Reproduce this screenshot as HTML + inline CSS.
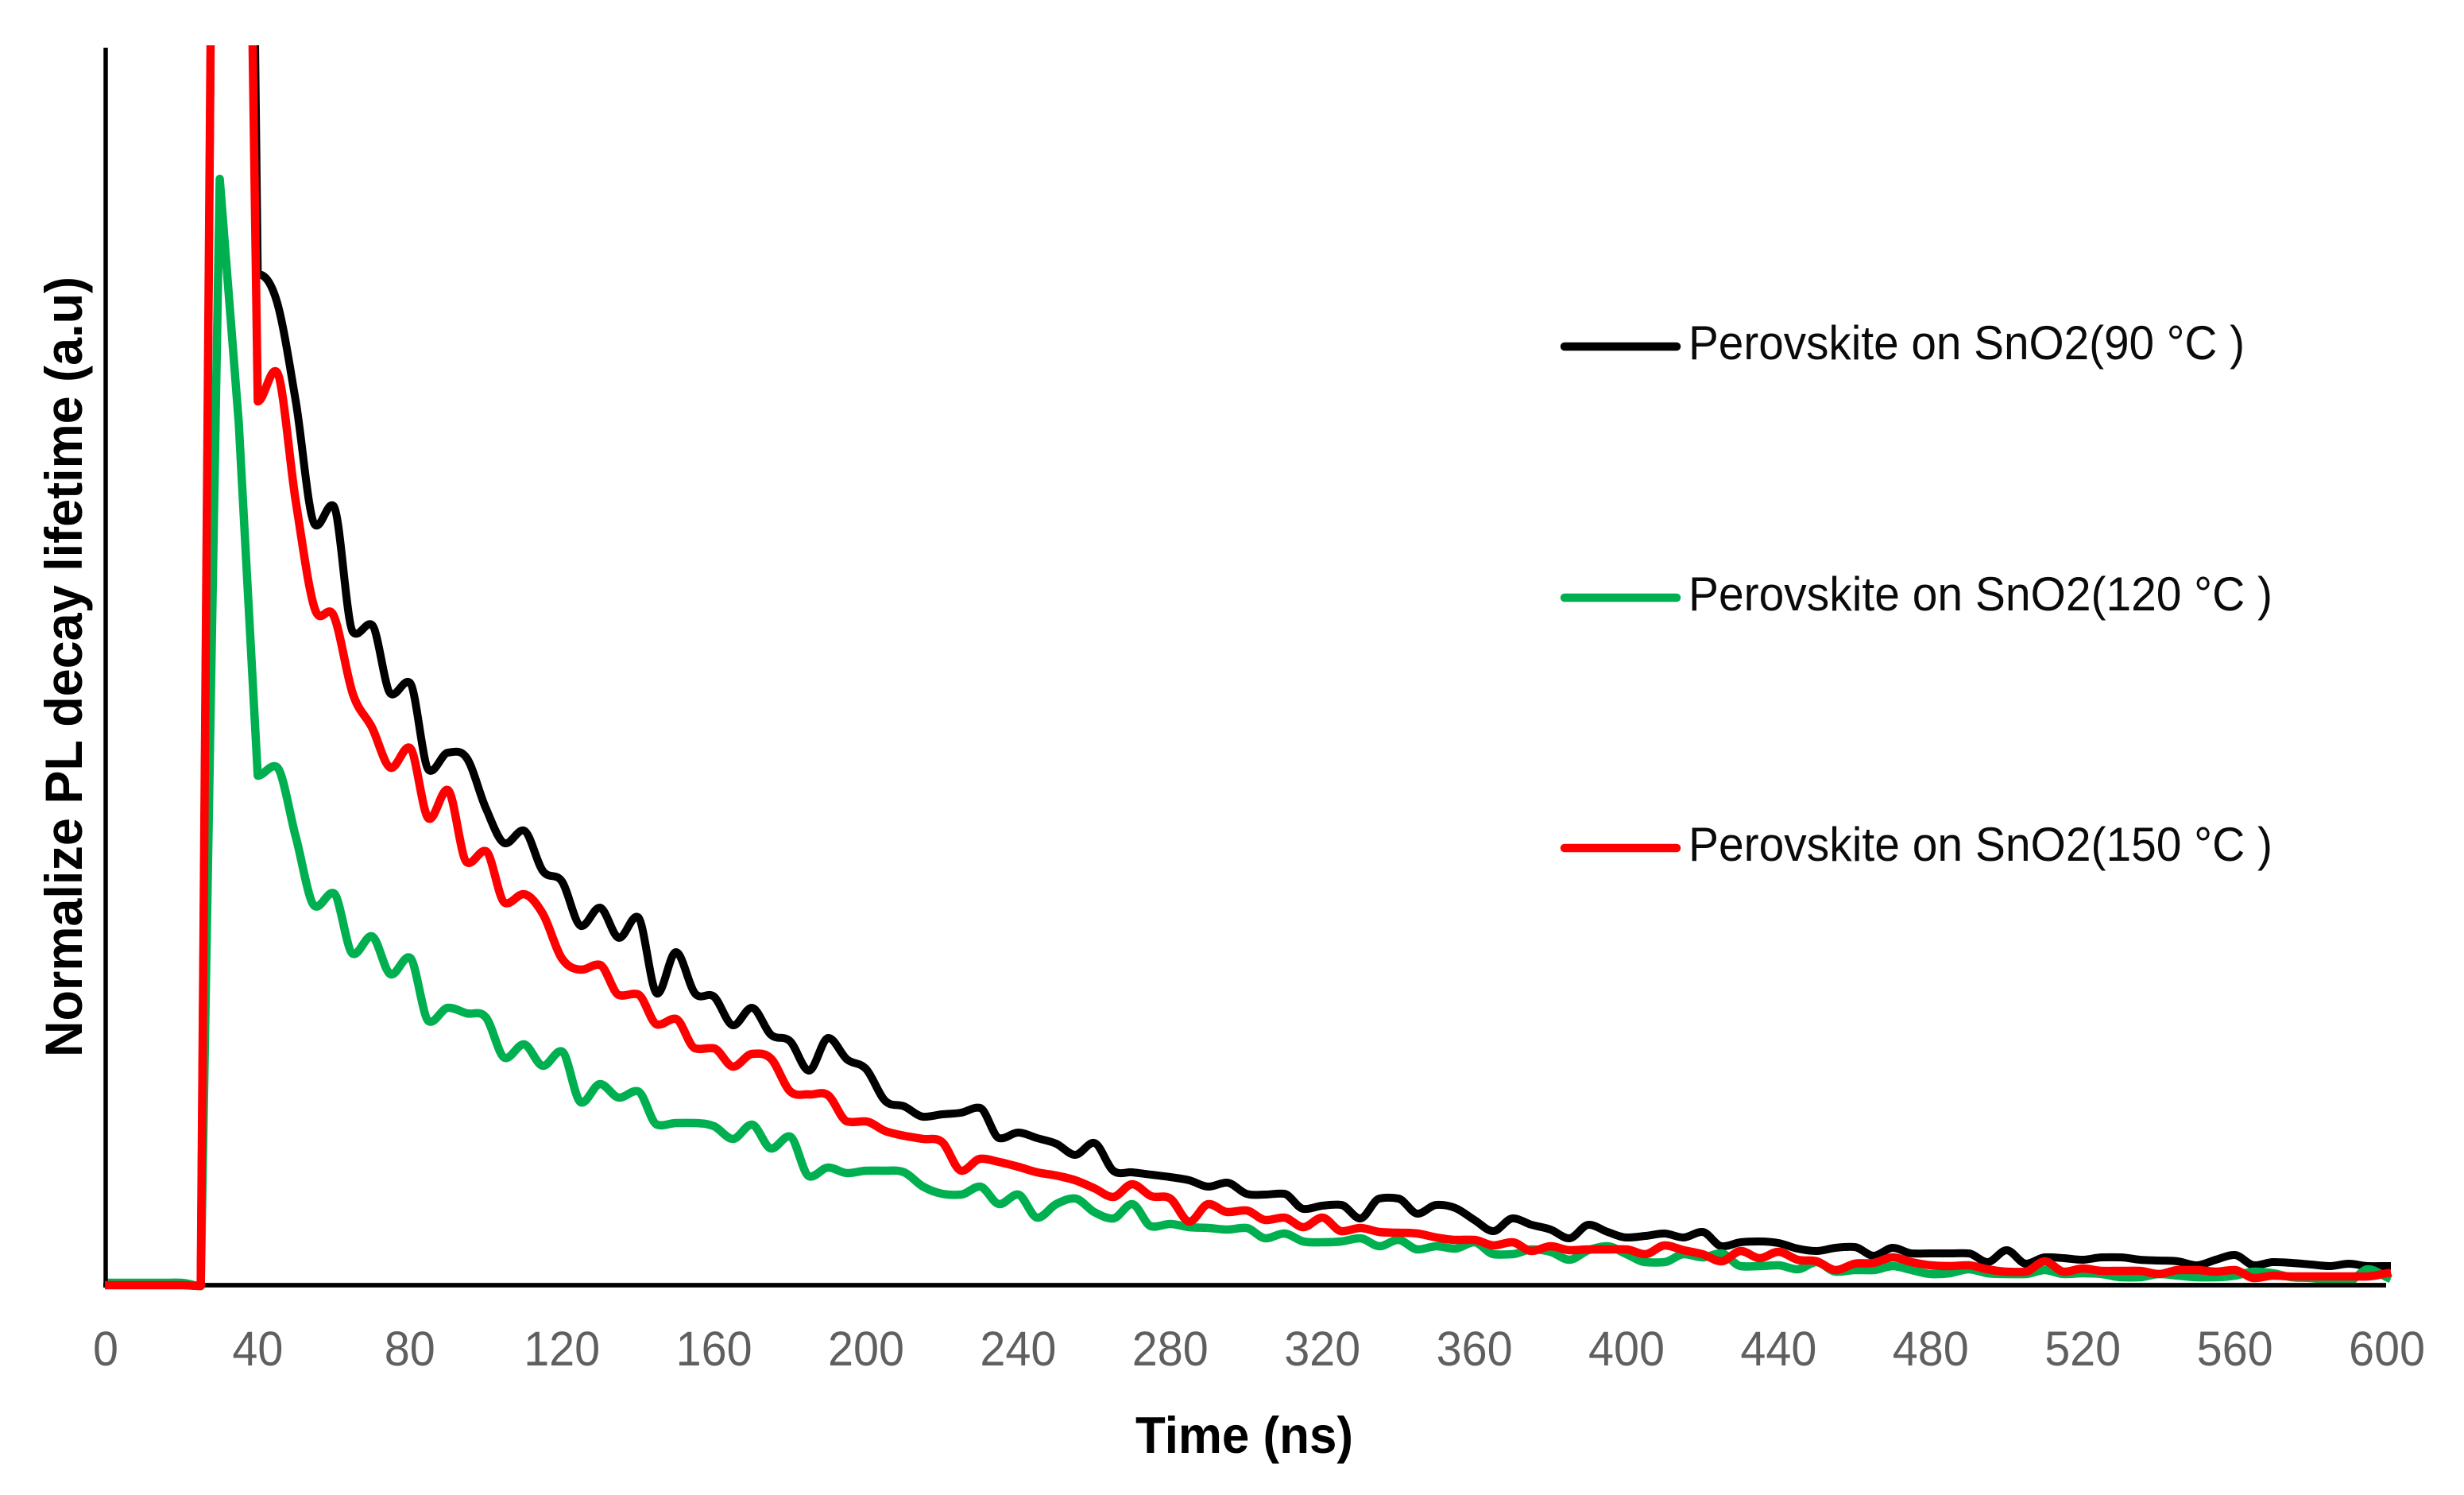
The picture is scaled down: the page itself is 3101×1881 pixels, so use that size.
<!DOCTYPE html>
<html lang="en">
<head>
<meta charset="utf-8">
<title>PL decay lifetime</title>
<style>
html,body{margin:0;padding:0;background:#fff;width:3101px;height:1881px;overflow:hidden}
svg{display:block}
text{font-family:"Liberation Sans",sans-serif}
</style>
</head>
<body>
<svg id="chart" xmlns="http://www.w3.org/2000/svg" width="3101" height="1881" viewBox="0 0 3101 1881">
  <defs>
    <clipPath id="plot-clip"><rect x="132" y="57" width="2969" height="1640"></rect></clipPath>
  </defs>
  <rect x="0" y="0" width="3101" height="1881" fill="#ffffff"></rect>
  <g id="series-layer" clip-path="url(#plot-clip)"></g>
  <line x1="133" y1="60" x2="133" y2="1620" stroke="#000" stroke-width="5.5"></line>
  <line x1="130" y1="1617" x2="3003" y2="1617" stroke="#000" stroke-width="5.7"></line>
  <g id="overlay-layer" clip-path="url(#plot-clip)"></g>
  <g id="tick-layer"></g>
  <text x="1566" y="1828" text-anchor="middle" font-size="65" font-weight="700" fill="#000" textLength="274" lengthAdjust="spacingAndGlyphs">Time (ns)</text>
  <text transform="translate(103,839) rotate(-90)" x="0" y="0" text-anchor="middle" font-size="66" font-weight="700" fill="#000" textLength="982" lengthAdjust="spacingAndGlyphs">Normalize PL decay lifetime (a.u)</text>

  <g>
    <g>
      <line x1="1969" y1="436" x2="2110" y2="436" stroke="#000000" stroke-width="10.5" stroke-linecap="round"></line>
      <text x="2125" y="452" font-size="60" fill="#0a0a0a" textLength="700" lengthAdjust="spacingAndGlyphs">Perovskite on SnO2(90 °C )</text>
    </g>
    <g>
      <line x1="1969" y1="752" x2="2110" y2="752" stroke="#00B050" stroke-width="10.5" stroke-linecap="round"></line>
      <text x="2125" y="768" font-size="60" fill="#0a0a0a" textLength="735" lengthAdjust="spacingAndGlyphs">Perovskite on SnO2(120 °C )</text>
    </g>
    <g>
      <line x1="1969" y1="1067" x2="2110" y2="1067" stroke="#FF0000" stroke-width="10.5" stroke-linecap="round"></line>
      <text x="2125" y="1083" font-size="60" fill="#0a0a0a" textLength="735" lengthAdjust="spacingAndGlyphs">Perovskite on SnO2(150 °C )</text>
    </g>
  </g>
</svg>
<script>
const timeNs = [
  0,5,10,15,20,25,30,35,40,45,
  50,55,60,65,70,75,80,85,90,95,
  100,105,110,115,120,125,130,135,140,145,
  150,155,160,165,170,175,180,185,190,195,
  200,205,210,215,220,225,230,235,240,245,
  250,255,260,265,270,275,280,285,290,295,
  300,305,310,315,320,325,330,335,340,345,
  350,355,360,365,370,375,380,385,390,395,
  400,405,410,415,420,425,430,435,440,445,
  450,455,460,465,470,475,480,485,490,495,
  500,505,510,515,520,525,530,535,540,545,
  550,555,560,565,570,575,580,585,590,595,
  600
];
const xTickLabels = [0,40,80,120,160,200,240,280,320,360,400,440,480,520,560,600];
const series90C = [
  3,3,3,3,3,-1,2997,3317,1272,1238,
  1112,957,980,822,831,744,758,648,670,663,
  600,556,572,521,508,452,475,437,463,367,
  419,367,363,327,349,315,307,270,311,284,
  272,232,225,212,215,217,223,185,192,185,
  178,164,179,144,142,139,136,132,124,129,
  115,114,115,96,100,101,84,109,109,90,
  101,97,82,68,84,76,70,59,76,67,
  60,62,65,60,67,49,54,55,53,46,
  43,47,48,37,47,40,40,40,40,29,
  44,27,35,34,32,35,35,32,31,30,
  25,32,38,25,29,28,26,24,27,24,
  24
];
const series120C = [
  3,3,3,3,3,-1,1392,1085,641,652,
  564,477,493,417,439,391,412,332,349,342,
  337,286,303,276,294,230,253,236,244,202,
  204,204,200,184,202,172,187,137,148,141,
  144,144,142,124,115,114,124,102,114,85,
  102,109,92,84,102,74,77,73,72,70,
  72,59,65,55,54,55,59,49,57,45,
  49,46,54,39,39,45,42,32,44,49,
  39,29,29,39,35,40,24,24,25,20,
  29,17,19,19,24,19,14,15,20,15,
  14,14,19,14,15,14,10,10,14,12,
  10,10,12,17,15,10,9,6,5,20,
  10
];
const series150C = [
  0,0,0,0,0,-1,3017,2767,1112,1149,
  986,851,842,744,702,651,676,587,623,532,
  546,481,492,467,411,397,403,365,366,328,
  335,298,298,275,291,285,244,240,239,206,
  206,194,188,184,180,144,159,155,149,142,
  138,132,122,111,127,112,109,80,102,92,
  94,82,85,73,85,68,72,67,66,65,
  60,57,57,50,54,43,49,44,45,45,
  45,39,50,44,39,30,43,34,42,32,
  30,19,27,28,35,29,25,24,25,20,
  17,17,30,17,21,18,18,18,14,19,
  19,17,19,9,12,11,11,11,11,11,
  15
];

const SVG_NS = 'http://www.w3.org/2000/svg';
const xDomain = [0, 600], xRange = [133, 3004];
const yDomain = [0, 1557], yRange = [1617, 60];
function xScale(t) {
  return xRange[0] + (t - xDomain[0]) / (xDomain[1] - xDomain[0]) * (xRange[1] - xRange[0]);
}
function yScale(v) {
  return yRange[0] + (v - yDomain[0]) / (yDomain[1] - yDomain[0]) * (yRange[1] - yRange[0]);
}

// Cardinal-style smoothing through the samples; very steep segments stay straight.
function buildPath(times, values) {
  const pts = times.map((t, i) => [xScale(t), yScale(values[i])]);
  const n = pts.length;
  const slope = [];
  for (let i = 0; i < n - 1; i++) {
    slope.push((pts[i + 1][1] - pts[i][1]) / (pts[i + 1][0] - pts[i][0]));
  }
  const tan = new Array(n).fill(0);
  tan[0] = slope[0];
  tan[n - 1] = slope[n - 2];
  for (let i = 1; i < n - 1; i++) {
    const avg = (slope[i - 1] + slope[i]) / 2;
    if (Math.abs(slope[i - 1]) > 8 || Math.abs(slope[i]) > 8) { tan[i] = 0; }
    else if (slope[i - 1] * slope[i] <= 0) { tan[i] = avg * 0.4; }
    else { tan[i] = avg; }
  }
  let d = 'M' + pts[0][0].toFixed(2) + ' ' + pts[0][1].toFixed(2);
  for (let i = 0; i < n - 1; i++) {
    const p = pts[i], q = pts[i + 1], h = (q[0] - p[0]) / 3;
    if (Math.abs(q[1] - p[1]) > 200) {
      d += 'L' + q[0].toFixed(2) + ' ' + q[1].toFixed(2);
    } else {
      d += 'C' + (p[0] + h).toFixed(2) + ' ' + (p[1] + tan[i] * h).toFixed(2) + ' ' +
           (q[0] - h).toFixed(2) + ' ' + (q[1] - tan[i + 1] * h).toFixed(2) + ' ' +
           q[0].toFixed(2) + ' ' + q[1].toFixed(2);
    }
  }
  return d;
}

const seriesLayer = document.getElementById('series-layer');

const pathBlack = document.createElementNS(SVG_NS, 'path');


pathBlack.setAttribute('d', buildPath(timeNs, series90C));
pathBlack.setAttribute('fill', 'none');
pathBlack.setAttribute('stroke', '#000000');
pathBlack.setAttribute('stroke-width', '10');
pathBlack.setAttribute('stroke-linejoin', 'round');
pathBlack.setAttribute('stroke-linecap', 'square');
seriesLayer.appendChild(pathBlack);

const pathGreen = document.createElementNS(SVG_NS, 'path');


pathGreen.setAttribute('d', buildPath(timeNs, series120C));
pathGreen.setAttribute('fill', 'none');
pathGreen.setAttribute('stroke', '#00B050');
pathGreen.setAttribute('stroke-width', '10.5');
pathGreen.setAttribute('stroke-linejoin', 'round');
pathGreen.setAttribute('stroke-linecap', 'square');
seriesLayer.appendChild(pathGreen);

const overlayLayer = document.getElementById('overlay-layer');
const pathRed = document.createElementNS(SVG_NS, 'path');


pathRed.setAttribute('d', buildPath(timeNs, series150C));
pathRed.setAttribute('fill', 'none');
pathRed.setAttribute('stroke', '#FF0000');
pathRed.setAttribute('stroke-width', '10.5');
pathRed.setAttribute('stroke-linejoin', 'round');
pathRed.setAttribute('stroke-linecap', 'square');
overlayLayer.appendChild(pathRed);

const tickLayer = document.getElementById('tick-layer');
xTickLabels.forEach(function (label) {
  const el = document.createElementNS(SVG_NS, 'text');
  
  
  el.setAttribute('x', xScale(label));
  el.setAttribute('y', 1718);
  el.setAttribute('text-anchor', 'middle');
  el.setAttribute('font-size', '61');
  el.setAttribute('fill', '#5f5f5f');
  el.setAttribute('textLength', String(label).length * 32);
  el.setAttribute('lengthAdjust', 'spacingAndGlyphs');
  el.textContent = String(label);
  tickLayer.appendChild(el);
});
</script>
</body>
</html>
